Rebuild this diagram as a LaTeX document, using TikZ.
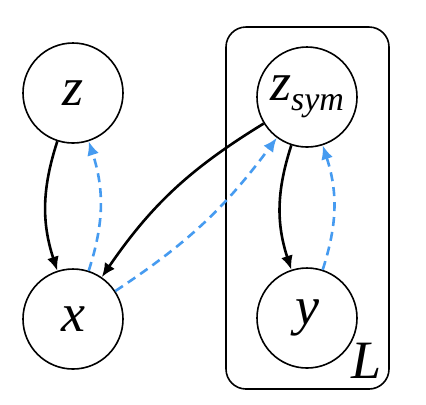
\documentclass[tikz,border=0pt]{standalone}
\usepackage{fontspec}
\setmainfont{Liberation Serif}
\usetikzlibrary{arrows.meta}
\definecolor{dashblue}{RGB}{70,155,240}
\begin{document}
\begin{tikzpicture}[x=0.5pt,y=-0.5pt,
  var/.style={circle,draw,line width=0.8pt,minimum size=50pt,inner sep=0pt,font=\fontsize{27}{27}\selectfont\itshape},
  gen/.style={line width=1.3pt,-{Latex[length=7pt,width=6pt]},bend right=18},
  inf/.style={line width=1.3pt,dashblue,dash pattern=on 4.5pt off 3pt,-{Latex[length=7pt,width=6pt]},bend right=18}]
\useasboundingbox (0,0) rectangle (426,404);
\node[draw,line width=0.8pt,rounded corners=10pt,minimum width=81.5pt,minimum height=181pt,inner sep=0pt] (plate) at (307.5,208) {};
\node[var] (z) at (73,93) {z};
\node[var] (x) at (73,319) {x};
\node[var] (zs) at (307,97) {z\raisebox{-5pt}{\fontsize{17}{17}\selectfont sym}};
\node[var] (y) at (307,318) {y};
\node[font=\fontsize{27}{27}\selectfont\itshape] (L) at (367,361) {L};
\draw[gen] (z) to (x);
\draw[inf] (x) to (z);
\draw[gen,bend right=12] (zs) to (x);
\draw[inf,bend right=10] (x) to (zs);
\draw[gen] (zs) to (y);
\draw[inf] (y) to (zs);
\end{tikzpicture}
\end{document}
